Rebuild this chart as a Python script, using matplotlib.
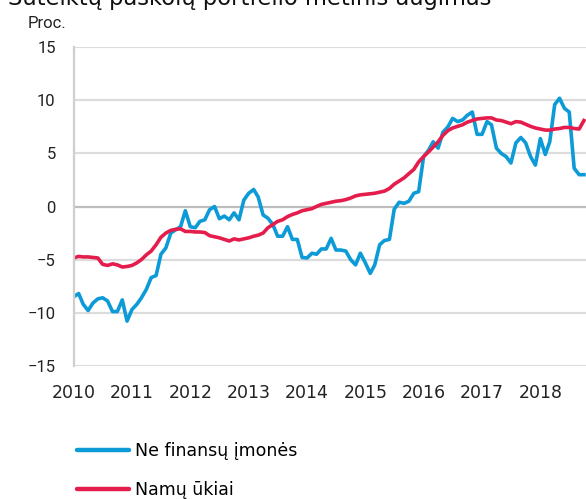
import numpy as np
import pandas as pd
import matplotlib
matplotlib.use('Agg')
import matplotlib.pyplot as plt

title = 'Suteiktų paskolų portfelio metinis augimas'
ylabel = 'Proc.'
series_names = ['Ne finansų įmonės', 'Namų ūkiai']
year_ticks = list(range(2010, 2019))

# monthly annual growth, Jan 2010 onwards
firms = [-8.5, -8.2, -9.2, -9.8, -9.1, -8.7, -8.6, -8.9, -9.9, -9.9, -8.8, -10.8,
         -9.7, -9.2, -8.6, -7.8, -6.7, -6.5, -4.5, -3.9, -2.5, -2.2, -1.9, -0.4,
         -1.9, -2.0, -1.4, -1.25, -0.3, 0.0, -1.15, -0.9, -1.25, -0.6, -1.25, 0.6,
         1.25, 1.6, 0.9, -0.8, -1.1, -1.7, -2.8, -2.8, -1.9, -3.1, -3.1, -4.8,
         -4.85, -4.4, -4.5, -4.0, -4.0, -3.0, -4.1, -4.1, -4.2, -5.0, -5.5, -4.4,
         -5.3, -6.3, -5.5, -3.6, -3.2, -3.1, -0.25, 0.4, 0.3, 0.5, 1.25, 1.4,
         4.7, 5.3, 6.1, 5.5, 7.0, 7.5, 8.3, 8.0, 8.15, 8.6, 8.9, 6.8,
         6.8, 8.0, 7.7, 5.5, 5.0, 4.7, 4.1, 6.0, 6.5, 6.0, 4.7, 3.9,
         6.4, 4.9, 6.1, 9.6, 10.2, 9.25, 8.9, 3.6, 3.0, 3.0]
households = [-4.85, -4.7, -4.75, -4.75, -4.8, -4.85, -5.45, -5.55, -5.4, -5.5, -5.7, -5.65,
              -5.55, -5.3, -5.0, -4.55, -4.2, -3.6, -2.9, -2.5, -2.25, -2.15, -2.1, -2.35,
              -2.35, -2.4, -2.4, -2.45, -2.75, -2.85, -2.95, -3.1, -3.25, -3.05, -3.15, -3.05,
              -2.95, -2.8, -2.7, -2.5, -2.0, -1.7, -1.4, -1.25, -0.95, -0.75, -0.6, -0.4,
              -0.3, -0.2, 0.0, 0.2, 0.3, 0.4, 0.5, 0.55, 0.65, 0.8, 1.0, 1.1,
              1.15, 1.2, 1.25, 1.35, 1.45, 1.7, 2.1, 2.4, 2.7, 3.1, 3.5, 4.2,
              4.7, 5.15, 5.6, 6.1, 6.7, 7.15, 7.4, 7.55, 7.7, 7.95, 8.1, 8.25,
              8.3, 8.35, 8.35, 8.15, 8.1, 7.95, 7.8, 8.0, 7.95, 7.75, 7.55, 7.4,
              7.3, 7.2, 7.2, 7.3, 7.35, 7.45, 7.45, 7.35, 7.3, 8.1]

BLUE = '#0c9bd7'
RED = '#e41d4c'

dates = pd.date_range('2010-01-01', periods=len(firms), freq='MS')

fig = plt.figure(figsize=(5.86, 4.99), dpi=100)
ax = fig.add_axes([0.1258, 0.2671, 0.8742, 0.6381])

ax.plot(dates, firms, color=BLUE, lw=2.6, label=series_names[0], solid_joinstyle='round')
ax.plot(dates, households, color=RED, lw=2.6, label=series_names[1], solid_joinstyle='round')

ax.set_ylim(-15, 15)
ax.set_yticks(np.arange(-15, 16, 5))
ax.set_xlim(pd.Timestamp('2010-01-01'), pd.Timestamp('2018-10-14'))
ax.set_xticks([pd.Timestamp(f'{y}-01-01') for y in year_ticks])
ax.set_xticklabels([str(y) for y in year_ticks])

for v in np.arange(-15, 16, 5):
    ax.axhline(v, color='#bdbdbd' if v == 0 else '#dcdcdc', lw=1.6, zorder=0)

for s in ['top', 'right', 'bottom']:
    ax.spines[s].set_visible(False)
ax.spines['left'].set_color('#cfcfcf')
ax.spines['left'].set_linewidth(1.6)

ax.tick_params(axis='both', length=0)
ax.tick_params(axis='y', pad=13, labelsize=12, labelcolor='#222222')
ax.tick_params(axis='x', pad=13, labelsize=12.5, labelcolor='#222222')
for lab in ax.get_yticklabels():
    lab.set_fontfamily('Roboto')
for lab in ax.get_xticklabels():
    lab.set_fontfamily('DejaVu Sans')

fig.text(28 / 586, 1 - 23 / 499, ylabel, fontsize=12, family='Roboto',
         va='center', ha='left', color='#222222')
# heading sits partly above the top edge
fig.text(8 / 586, 1 - 5 / 499, title, fontsize=16.3, family='DejaVu Sans',
         va='baseline', ha='left', color='#111111')

fig.legend(loc='upper left', bbox_to_anchor=(77 / 586, 1 - 442 / 499),
           frameon=False, prop={'family': 'DejaVu Sans', 'size': 12.5},
           handlelength=3.0, handletextpad=0.35, labelspacing=1.2,
           borderpad=0, borderaxespad=0)
for line in fig.legends[0].get_lines():
    line.set_linewidth(3.2)
    line.set_solid_capstyle('round')

fig.savefig('out.png', dpi=100)
